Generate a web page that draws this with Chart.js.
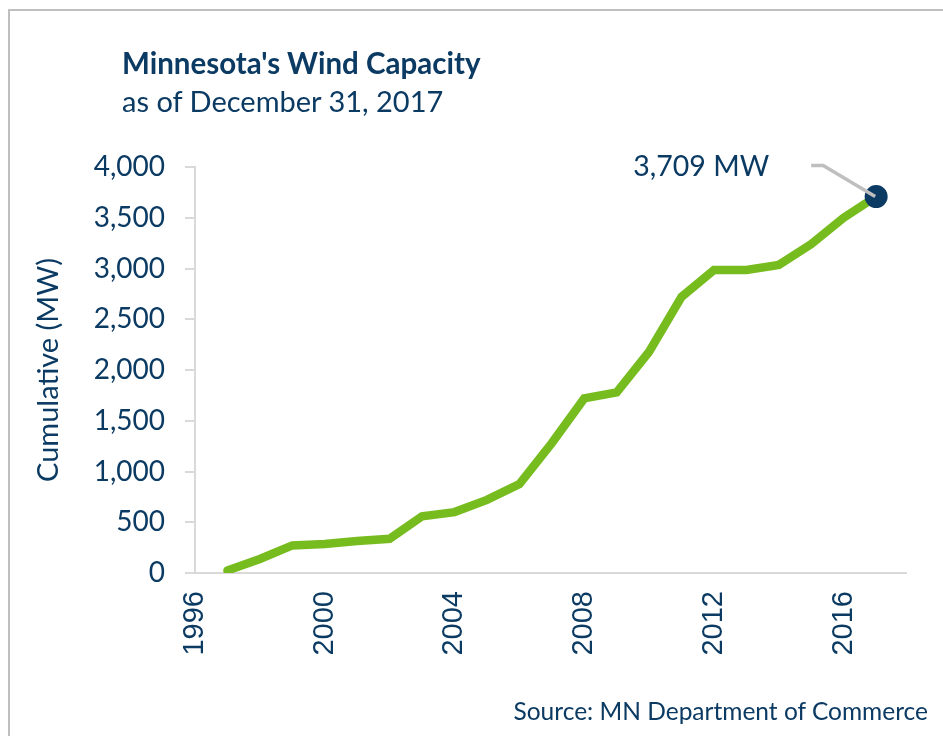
<!DOCTYPE html>
<html>
<head>
<meta charset="utf-8">
<script src="https://cdn.jsdelivr.net/npm/chart.js@4"></script>
<style>
  html, body { margin: 0; padding: 0; background: #fff; }
  body { width: 943px; height: 736px; position: relative; overflow: hidden; font-family: Lato, "Open Sans", sans-serif; }
  #frame { position: absolute; left: 8px; top: 9px; width: 960px; height: 760px; border-left: 2px solid #bfbfbf; border-top: 2px solid #bfbfbf; }
  #chart { position: absolute; left: 0; top: 0; }
  .txt { position: absolute; color: #0b3a63; white-space: nowrap; }
  #title { left: 122px; top: 46px; font: bold 29.5px/34px Lato; }
  #subtitle { left: 122px; top: 84px; font: 29px/34px Lato; }
  #source { right: 15px; top: 696px; font: 24.5px/30px Lato; }
</style>
</head>
<body>
<div id="frame"></div>
<canvas id="chart" width="943" height="736"></canvas>
<div class="txt" id="title">Minnesota's Wind Capacity</div>
<div class="txt" id="subtitle">as of December 31, 2017</div>
<div class="txt" id="source">Source: MN Department of Commerce</div>
<script>
const years = [1997, 1998, 1999, 2000, 2001, 2002, 2003, 2004, 2005, 2006, 2007,
               2008, 2009, 2010, 2011, 2012, 2013, 2014, 2015, 2016, 2017];
const capacityMW = [25, 138, 272, 285, 316, 337, 558, 600, 720, 875, 1280,
                    1720, 1780, 2180, 2720, 2985, 2985, 3035, 3240, 3500, 3709];
const xTickYears = [1996, 2000, 2004, 2008, 2012, 2016];

const NAVY = '#0b3a63';
const GREEN = '#77bc1f';
const AXIS_GRAY = '#d9d9d9';

const lastIndex = capacityMW.length - 1;

// 最後の点に値ラベルと引き出し線を描く
const endLabel = {
    id: 'endLabel',
    afterDatasetsDraw(chart) {
        const pt = chart.getDatasetMeta(0).data[lastIndex];
        const ctx = chart.ctx;
        ctx.save();
        ctx.strokeStyle = '#bfbfbf';
        ctx.lineWidth = 3.5;
        ctx.beginPath();
        ctx.moveTo(pt.x - 65, pt.y - 31);
        ctx.lineTo(pt.x - 53, pt.y - 31);
        ctx.lineTo(pt.x - 1, pt.y);
        ctx.stroke();
        ctx.fillStyle = NAVY;
        ctx.font = '28.5px Lato';
        ctx.textAlign = 'right';
        ctx.textBaseline = 'middle';
        ctx.fillText(capacityMW[lastIndex].toLocaleString('en-US') + ' MW', pt.x - 107, pt.y - 30);
        ctx.restore();
    }
};

new Chart(document.getElementById('chart'), {
    type: 'line',
    data: {
        datasets: [{
            data: years.map((yr, i) => ({ x: yr, y: capacityMW[i] })),
            borderColor: GREEN,
            borderWidth: 8.5,
            borderCapStyle: 'round',
            borderJoinStyle: 'miter',
            tension: 0,
            pointRadius: ctx => ctx.dataIndex === lastIndex ? 11.5 : 0,
            pointBackgroundColor: NAVY,
            pointBorderColor: NAVY,
            pointBorderWidth: 0
        }]
    },
    options: {
        responsive: false,
        animation: false,
        layout: { padding: { left: 0, top: 167, right: 37, bottom: 43 } },
        plugins: { legend: { display: false }, tooltip: { enabled: false } },
        scales: {
            x: {
                type: 'linear',
                min: 1996,
                max: 2017.92,
                afterBuildTicks: scale => { scale.ticks = xTickYears.map(v => ({ value: v })); },
                afterFit: scale => { scale.height = 120; },
                grid: { display: false },
                border: { color: AXIS_GRAY, width: 2 },
                ticks: {
                    autoSkip: false,
                    minRotation: 90,
                    maxRotation: 90,
                    padding: 10,
                    color: NAVY,
                    font: { family: 'Liberation Sans', size: 29 },
                    callback: v => String(v)
                }
            },
            y: {
                min: 0,
                max: 4000,
                afterFit: scale => { scale.width = 195; },
                grid: { drawOnChartArea: false, drawTicks: true, tickLength: 10, color: AXIS_GRAY, lineWidth: 2 },
                border: { color: AXIS_GRAY, width: 2 },
                ticks: {
                    stepSize: 500,
                    padding: 20,
                    color: NAVY,
                    font: { family: 'Lato', size: 28 },
                    callback: v => v.toLocaleString('en-US')
                },
                title: {
                    display: true,
                    text: 'Cumulative (MW)',
                    color: NAVY,
                    font: { family: 'Lato', size: 29 },
                    padding: { top: 31, bottom: 0 }
                }
            }
        }
    },
    plugins: [endLabel]
});
</script>
</body>
</html>
